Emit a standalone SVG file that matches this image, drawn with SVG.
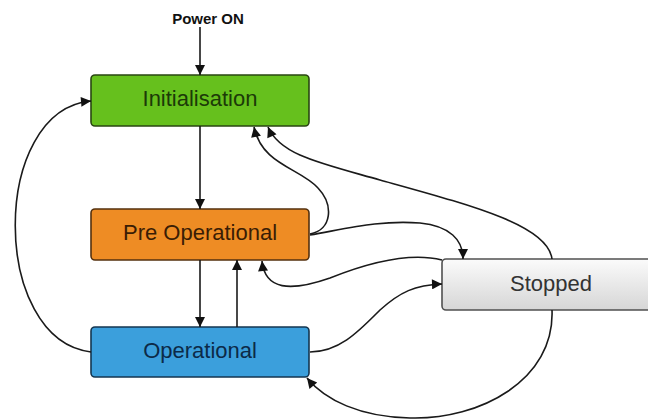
<svg xmlns="http://www.w3.org/2000/svg" width="648" height="419" viewBox="0 0 648 419">
  <defs>
    <marker id="arrow" viewBox="0 0 10 10" refX="10" refY="5" markerWidth="12" markerHeight="10" markerUnits="userSpaceOnUse" orient="auto">
      <path d="M0 0 L10 5 L0 10 Z" fill="#111"/>
    </marker>
    <linearGradient id="greyFill" x1="0" y1="0" x2="0" y2="1">
      <stop offset="0" stop-color="#fbfbfb"/>
      <stop offset="1" stop-color="#d6d6d6"/>
    </linearGradient>
    <style>
      .box { stroke-width: 1.6; }
      .label { font-family: "Liberation Sans", Arial, sans-serif; font-size: 22px; text-anchor: middle; }
      .edge { fill: none; stroke: #1a1a1a; stroke-width: 1.6; marker-end: url(#arrow); }
    </style>
  </defs>

  <rect width="648" height="419" fill="#ffffff"/>

  <g id="power-on">
    <text x="208" y="24" font-family="Liberation Sans, Arial, sans-serif" font-size="15" font-weight="bold" text-anchor="middle" fill="#111">Power ON</text>
  </g>

  <g id="initialisation">
    <rect class="box" x="91" y="75" width="218" height="51" rx="4" fill="#66c01d" stroke="#2a4612"/>
    <text class="label" x="200" y="106" fill="#1c3a08">Initialisation</text>
  </g>

  <g id="pre-operational">
    <rect class="box" x="91" y="209" width="218" height="51" rx="4" fill="#ee8c24" stroke="#54310e"/>
    <text class="label" x="200" y="240" fill="#3a1d05">Pre Operational</text>
  </g>

  <g id="operational">
    <rect class="box" x="91" y="327" width="218" height="50" rx="4" fill="#3b9fdc" stroke="#143650"/>
    <text class="label" x="200" y="358" fill="#0c2a48">Operational</text>
  </g>

  <g id="stopped">
    <rect class="box" x="442" y="259" width="220" height="51" rx="4" fill="url(#greyFill)" stroke="#505050"/>
    <text class="label" x="551" y="291" fill="#333">Stopped</text>
  </g>

  <g id="connectors">
    <path class="edge" d="M200 27 V75"/>
    <path class="edge" d="M200 126 V209"/>
    <path class="edge" d="M200 260 V327"/>
    <path class="edge" d="M237 327 V260"/>
    <path class="edge" d="M91 352 C -10 340, -10 110, 91 101"/>
    <path class="edge" d="M310 234 C 332 230, 334 205, 318 188 C 300 168, 262 165, 254 127"/>
    <path class="edge" d="M552 259 C 548 225, 470 205, 380 180 C 320 163, 280 155, 268 127"/>
    <path class="edge" d="M310 235 C 350 228, 380 220, 420 223 C 450 226, 463 240, 463 259"/>
    <path class="edge" d="M442 260 C 410 252, 370 262, 330 278 C 290 292, 265 290, 262 261"/>
    <path class="edge" d="M310 352 C 340 352, 360 330, 380 310 C 400 292, 415 285, 442 284"/>
    <path class="edge" d="M552 310 C 555 380, 480 420, 410 418 C 360 417, 325 400, 307 378"/>
  </g>
</svg>
